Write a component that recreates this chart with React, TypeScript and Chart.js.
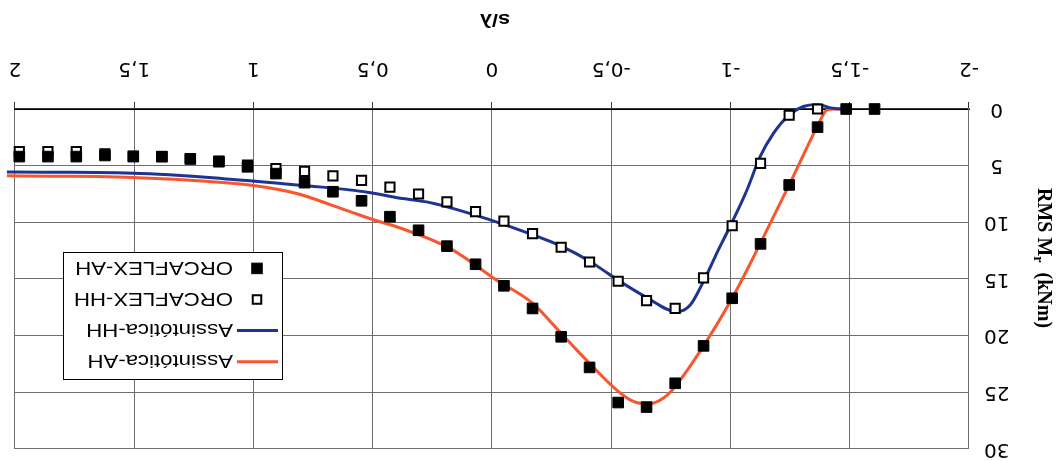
import React, { useEffect, useRef } from 'react';
import { Chart, registerables } from 'chart.js';

Chart.register(...registerables);

// s/λ positions of the ORCAFLEX samples
const orcaS = [-1.604, -1.485, -1.365, -1.246, -1.126, -1.007, -0.887, -0.768, -0.648, -0.529, -0.409, -0.29, -0.17, -0.05, 0.069, 0.189, 0.308, 0.428, 0.547, 0.667, 0.786, 0.906, 1.025, 1.145, 1.265, 1.384, 1.504, 1.623, 1.743, 1.862, 1.982];
// RMS Mr (kNm)
const orcaflexAH = [0, 0, 1.6, 6.7, 11.9, 16.7, 20.9, 24.2, 26.3, 25.9, 22.8, 20.1, 17.6, 15.6, 13.7, 12.1, 10.7, 9.5, 8.1, 7.3, 6.5, 5.7, 5.1, 4.65, 4.4, 4.2, 4.2, 4.1, 4.2, 4.2, 4.2];
const orcaflexHH = [null, null, 0, 0.55, 4.8, 10.3, 14.9, 17.6, 16.9, 15.2, 13.5, 12.2, 11.0, 9.9, 9.05, 8.2, 7.5, 6.9, 6.3, 5.9, 5.5, 5.25, 4.95, 4.6, 4.4, 4.2, 4.15, 3.95, 3.75, 3.75, 3.75];

// Asymptotic curves
const asymHHs = [-1.5, -1.47, -1.42, -1.37, -1.32, -1.246, -1.18, -1.124, -1.069, -1.004, -0.943, -0.887, -0.831, -0.775, -0.646, -0.528, -0.407, -0.29, -0.171, 0.008, 0.26, 0.385, 0.539, 0.819, 1.098, 1.504, 2.034];
const asymHHv = [0, 0, -0.1, -0.38, -0.3, 0.53, 2.15, 4.2, 7.15, 10.1, 12.7, 15.2, 17.3, 17.9, 16.6, 15.1, 13.4, 12.1, 11.1, 9.78, 8.26, 7.87, 7.29, 6.7, 6.19, 5.67, 5.56];

const asymAHs = [-1.5, -1.44, -1.404, -1.365, -1.246, -1.124, -1.004, -0.887, -0.764, -0.719, -0.656, -0.593, -0.528, -0.407, -0.29, -0.171, -0.02, 0.176, 0.385, 0.5, 0.637, 0.819, 1.0, 1.504, 2.034];
const asymAHv = [0, 0, 0.1, 1.5, 6.7, 11.9, 16.8, 20.9, 24.6, 25.5, 26.0, 25.8, 24.9, 22.4, 19.8, 17.15, 15.1, 12.3, 10.5, 9.75, 8.75, 7.45, 6.75, 6.05, 5.9];

const seriesLabels = ['Assintótica-AH', 'Assintótica-HH', 'ORCAFLEX-HH', 'ORCAFLEX-AH'];
const xTitle = 's/λ';
const yTitleParts = ['RMS M', 'r', '  (kNm)'];

const BLUE = '#1d3491';
const RED = '#f8562f';
const GRID = '#6e6e6e';

function pairs(xs: number[], ys: (number | null)[]) {
  return xs.map((x, i) => ({ x, y: ys[i] })).filter((p) => p.y !== null);
}

const overlayPlugin = {
  id: 'overlay',
  afterDraw(chart: any) {
    const ctx = chart.ctx as CanvasRenderingContext2D;
    ctx.save();
    // Legend box
    const bx = 775, by = 81, bw = 219, bh = 127;
    ctx.fillStyle = '#ffffff';
    ctx.fillRect(bx, by, bw, bh);
    ctx.strokeStyle = '#000';
    ctx.lineWidth = 1;
    ctx.strokeRect(bx + 0.5, by + 0.5, bw, bh);
    chart.data.datasets.forEach((ds: any, i: number) => {
      const base = 106 + i * 31.1;
      const cy = base - 6.7;
      if (ds.showLine) {
        ctx.strokeStyle = ds.borderColor;
        ctx.lineWidth = ds.borderWidth;
        ctx.beginPath();
        ctx.moveTo(780, cy);
        ctx.lineTo(821, cy);
        ctx.stroke();
      } else {
        const s = ds.backgroundColor === '#ffffff' ? 8.5 : 10.5;
        ctx.fillStyle = ds.backgroundColor;
        ctx.fillRect(801 - s / 2, cy - s / 2, s, s);
        ctx.strokeStyle = ds.borderColor;
        ctx.lineWidth = ds.borderWidth;
        ctx.strokeRect(801 - s / 2, cy - s / 2, s, s);
      }
      ctx.save();
      ctx.translate(825, base);
      ctx.scale(1.2, 1);
      ctx.fillStyle = '#000';
      ctx.font = '18.5px "Liberation Sans", Arial, sans-serif';
      ctx.textBaseline = 'alphabetic';
      ctx.textAlign = 'left';
      ctx.fillText(ds.label, 0, 0);
      ctx.restore();
    });

    // X axis title
    ctx.save();
    ctx.translate(563, 447);
    ctx.scale(1.15, 1);
    ctx.fillStyle = '#000';
    ctx.font = 'bold 19px "Liberation Sans", Arial, sans-serif';
    ctx.textAlign = 'center';
    ctx.textBaseline = 'alphabetic';
    ctx.fillText(xTitle, 0, 0);
    ctx.restore();

    // Y axis title with subscript
    ctx.save();
    ctx.translate(19.6, 203);
    ctx.rotate(-Math.PI / 2);
    ctx.fillStyle = '#000';
    ctx.textBaseline = 'alphabetic';
    ctx.textAlign = 'left';
    const big = 'bold 20px "Liberation Serif", "Times New Roman", serif';
    const small = 'bold 14px "Liberation Serif", "Times New Roman", serif';
    const fonts = [big, small, big];
    const offs = [0, 4, 0];
    const widths = yTitleParts.map((t, i) => {
      ctx.font = fonts[i];
      return ctx.measureText(t).width;
    });
    let x = -widths.reduce((a, b) => a + b, 0) / 2;
    yTitleParts.forEach((t, i) => {
      ctx.font = fonts[i];
      ctx.fillText(t, x, offs[i]);
      x += widths[i];
    });
    ctx.restore();

    ctx.restore();
  },
};

export default function App() {
  const canvasRef = useRef<HTMLCanvasElement | null>(null);

  useEffect(() => {
    const canvas = canvasRef.current;
    if (!canvas) return;
    const chart = new Chart(canvas, {
      type: 'scatter',
      data: {
        datasets: [
          {
            label: seriesLabels[0],
            data: pairs(asymAHs, asymAHv),
            showLine: true,
            borderColor: RED,
            backgroundColor: RED,
            borderWidth: 3,
            pointRadius: 0,
            cubicInterpolationMode: 'monotone',
            fill: false,
            order: 3,
            clip: 15,
          } as any,
          {
            label: seriesLabels[1],
            data: pairs(asymHHs, asymHHv),
            showLine: true,
            borderColor: BLUE,
            backgroundColor: BLUE,
            borderWidth: 3,
            pointRadius: 0,
            cubicInterpolationMode: 'monotone',
            fill: false,
            order: 2,
            clip: 15,
          } as any,
          {
            label: seriesLabels[2],
            data: pairs(orcaS, orcaflexHH),
            showLine: false,
            pointStyle: 'rect',
            pointRadius: 6.5,
            backgroundColor: '#ffffff',
            borderColor: '#000000',
            borderWidth: 2,
            order: 1,
            clip: 15,
          } as any,
          {
            label: seriesLabels[3],
            data: pairs(orcaS, orcaflexAH),
            showLine: false,
            pointStyle: 'rect',
            pointRadius: 7.5,
            backgroundColor: '#000000',
            borderColor: '#000000',
            borderWidth: 1,
            order: 0,
            clip: 15,
          } as any,
        ],
      },
      options: {
        animation: false,
        responsive: false,
        devicePixelRatio: 1,
        events: [],
        layout: { padding: { left: 0, right: 15, top: 12, bottom: 0 }, autoPadding: false },
        plugins: {
          legend: { display: false },
          tooltip: { enabled: false },
          title: { display: false },
        },
        scales: {
          x: {
            type: 'linear',
            position: 'bottom',
            min: -2,
            max: 2,
            afterFit: (scale: any) => {
              scale.height = 109;
              scale.paddingLeft = 0;
              scale.paddingRight = 0;
            },
            ticks: {
              stepSize: 0.5,
              autoSkip: false,
              maxRotation: 0,
              padding: 22,
              color: '#000',
              font: { family: '"DejaVu Sans", sans-serif', size: 20 },
              callback: (v: any) => String(v).replace('.', ','),
            },
            grid: {
              color: GRID,
              lineWidth: 1,
              drawTicks: true,
              tickLength: 7,
              tickColor: '#333',
            },
            border: { color: '#000', width: 1.5 },
          },
          y: {
            type: 'linear',
            position: 'left',
            min: 0,
            max: 30,
            afterFit: (scale: any) => {
              scale.width = 89;
              scale.paddingTop = 0;
              scale.paddingBottom = 0;
            },
            ticks: {
              stepSize: 5,
              padding: 15,
              crossAlign: 'center',
              color: '#000',
              font: { family: '"DejaVu Sans", sans-serif', size: 20 },
            },
            grid: {
              color: GRID,
              lineWidth: 1,
              drawTicks: false,
            },
            border: { color: GRID, width: 1 },
          },
        },
      },
      plugins: [overlayPlugin],
    });
    return () => chart.destroy();
  }, []);

  return (
    <div
      style={{
        position: 'absolute',
        left: 0,
        top: 0,
        width: 1058,
        height: 461,
        transform: 'rotate(180deg)',
        transformOrigin: '50% 50%',
        background: '#ffffff',
      }}
    >
      <canvas ref={canvasRef} width={1058} height={461} style={{ display: 'block', width: 1058, height: 461 }} />
    </div>
  );
}
